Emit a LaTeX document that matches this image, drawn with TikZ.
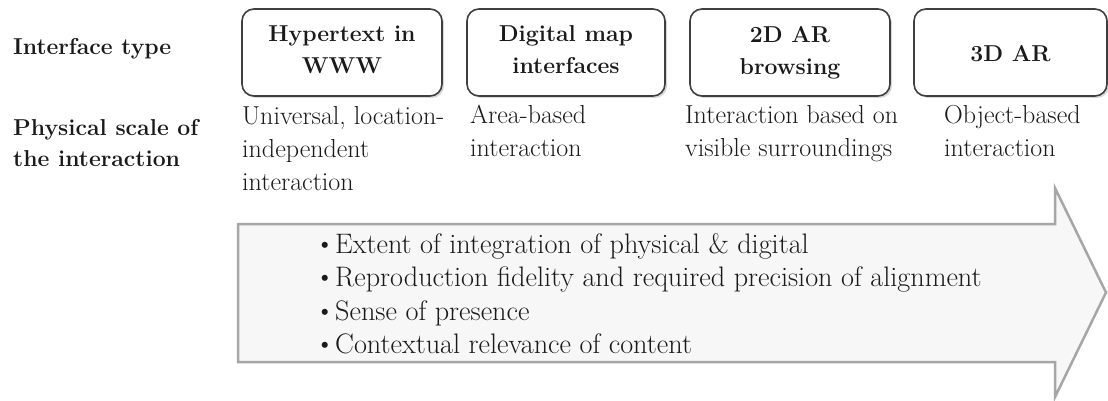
\documentclass[tikz,border=0pt]{standalone}
\usetikzlibrary{shadows}
\definecolor{boxline}{HTML}{3F3F3F}
\definecolor{arrowline}{HTML}{A6A6A6}
\definecolor{arrowfill}{HTML}{F7F7F7}
\definecolor{inktext}{HTML}{1A1A1A}
\newcommand{\bul}{\makebox[17pt][l]{\hspace*{-3pt}\raisebox{1pt}{\fontsize{27}{27}\selectfont\textbullet}}}
\begin{document}
\begin{tikzpicture}[x=1pt,y=-1pt,
  typebox/.style={draw=boxline, line width=1.6pt, rounded corners=12pt, fill=white,
    minimum width=200pt, minimum height=87pt,
    drop shadow={shadow xshift=2pt, shadow yshift=-2pt, opacity=0.3}},
  boxtext/.style={anchor=base, align=center, inner sep=0pt, text=inktext,
    font=\fontsize{23}{32}\selectfont\bfseries},
  desc/.style={anchor=base west, align=left, inner sep=0pt, text=inktext,
    font=\fontsize{26}{33}\selectfont},
  rowlabel/.style={anchor=base west, align=left, inner sep=0pt, text=inktext,
    font=\fontsize{23}{32}\selectfont\bfseries},
  bullets/.style={anchor=base west, align=left, inner sep=0pt, text=inktext,
    font=\fontsize{28.2}{33.5}\selectfont}]
\useasboundingbox[fill=white] (0,0) rectangle (1108,401);

% big arrow
\draw[draw=arrowline, fill=arrowfill, line width=2.5pt, line join=miter]
  (238,224) -- (1055,224) -- (1055,188) -- (1106,292.5) -- (1055,397)
  -- (1055,362) -- (238,362) -- cycle;

% row labels (anchor = baseline of last line)
\node[rowlabel] (lt) at (13,55) {Interface type};
\node[rowlabel] (ls) at (13,167) {Physical scale of\\the interaction};

% interface boxes
\node[typebox] (b1) at (342,52.5) {};
\node[typebox, minimum width=198pt] (b2) at (566,52.5) {};
\node[typebox] (b3) at (790,52.5) {};
\node[typebox, minimum width=193pt] (b4) at (1010.5,52.5) {};

% box texts (anchor = baseline of last line)
\node[boxtext] (t1) at (342,74) {Hypertext in\\WWW};
\node[boxtext] (t2) at (566,74) {Digital map\\interfaces};
\node[boxtext] (t3) at (790,75) {2D AR\\browsing};
\node[boxtext] (t4) at (1010.5,62) {3D AR};

% descriptions (anchor = baseline of last line)
\node[desc] (d1) at (242,190) {Universal, location-\\independent\\interaction};
\node[desc] (d2) at (470,157) {Area-based\\interaction};
\node[desc] (d3) at (685,157) {Interaction based on\\visible surroundings};
\node[desc] (d4) at (944,157) {Object-based\\interaction};

% bullet list (anchor = baseline of last line)
\node[bullets] (bl) at (318,353.5) {\bul Extent of integration of physical \& digital\\
\bul Reproduction fidelity and required precision of alignment\\
\bul Sense of presence\\
\bul Contextual relevance of content};
\end{tikzpicture}
\end{document}
